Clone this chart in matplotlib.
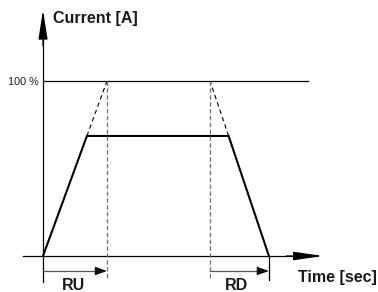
import matplotlib
matplotlib.use("Agg")
import matplotlib.pyplot as plt

plt.rcParams['font.family'] = ['Liberation Sans', 'DejaVu Sans']

# Data (time in arbitrary units, current in % of max)
time = [0, 6.86, 29.0, 35.3]
current = [0, 68.6, 68.6, 0]
ramp_up_end = 10.0        # where ramp-up slope reaches 100 %
ramp_down_start = 26.1    # where ramp-down slope starts from 100 %
full_level = 100
y_label = "Current [A]"
x_label = "Time [sec]"
level_label = "100 %"
ru_label = "RU"
rd_label = "RD"

fig = plt.figure(figsize=(3.78, 2.92), dpi=100)
ax = fig.add_axes([0, 0, 1, 1])
ax.set_xlim(-6.71875, 52.34375)
ax.set_ylim(-20.571, 146.286)
ax.axis('off')

# axes with arrows
ax.plot([0, 0], [-14.86, 125], color='black', lw=0.9)
ax.annotate('', xy=(0, 140.6), xytext=(0, 120),
            arrowprops=dict(arrowstyle='-|>,head_length=18,head_width=2.8',
                            mutation_scale=1, color='black', lw=0.9,
                            shrinkA=0, shrinkB=0))
ax.plot([-3.125, 40], [0, 0], color='black', lw=0.9)
ax.annotate('', xy=(43.75, 0), xytext=(38, 0),
            arrowprops=dict(arrowstyle='-|>,head_length=18,head_width=2.6',
                            mutation_scale=1, color='black', lw=0.9,
                            shrinkA=0, shrinkB=0))

# 100 % line
ax.plot([0, 41.4], [full_level, full_level], color='black', lw=0.9)

# trapezoid
ax.plot(time, current, color='black', lw=1.5, solid_joinstyle='miter')

# slanted dashed extensions
ax.plot([time[1], ramp_up_end], [current[1], full_level], color='black',
        lw=0.8, dashes=(4, 3))
ax.plot([time[2], ramp_down_start], [current[2], full_level], color='black',
        lw=0.8, dashes=(4, 3))

# vertical gray dashed lines
for xv in (ramp_up_end, ramp_down_start):
    ax.plot([xv, xv], [full_level, -13.7], color='#707070', lw=0.9,
            dashes=(3.5, 2))

# RD end tick
ax.plot([time[3], time[3]], [0, -13.7], color='black', lw=0.9)

# RU / RD arrows
for x0, x1 in ((0, ramp_up_end), (ramp_down_start, time[3])):
    ax.plot([x0, x1 - 1.0], [-8.57, -8.57], color='#555555', lw=0.9)
    ax.annotate('', xy=(x1, -8.57), xytext=(x1 - 1.5, -8.57),
                arrowprops=dict(arrowstyle='-|>,head_length=7,head_width=2.5',
                                mutation_scale=1, color='#111111', lw=0.9,
                                shrinkA=0, shrinkB=0))

# texts
ax.text(1.56, 136, y_label, fontsize=11.5, fontweight='bold', ha='left',
        va='center', color='#1a1a1a')
ax.text(-0.625, 99.4, level_label, fontsize=7.8, ha='right', va='center',
        color='#1a1a1a')
ax.text(4.69, -16.86, ru_label, fontsize=11.5, fontweight='bold', ha='center',
        va='center', color='#1a1a1a')
ax.text(30.16, -16.86, rd_label, fontsize=11.5, fontweight='bold', ha='center',
        va='center', color='#1a1a1a')
ax.text(52.19, -12.57, x_label, fontsize=11.5, fontweight='bold', ha='right',
        va='center', color='#1a1a1a')

fig.savefig('out.png', dpi=100)
